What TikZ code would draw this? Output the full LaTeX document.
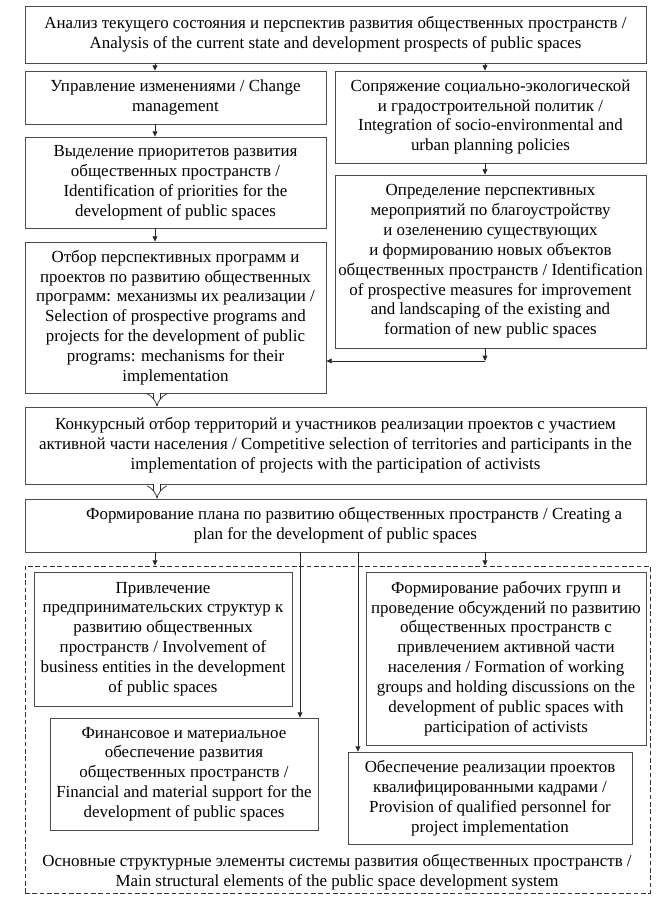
\documentclass[tikz,border=0pt]{standalone}
\usepackage{fontspec}
\setmainfont{Liberation Serif}
\usetikzlibrary{arrows.meta}
\begin{document}
\begin{tikzpicture}[x=0.75pt,y=-0.75pt,
  box/.style={draw=black!70, line width=0.6pt, rectangle, align=center, inner sep=0pt, font=\fontsize{12.7}{14.9}\selectfont},
  arr/.style={draw=black!85, line width=0.6pt, -{Triangle[length=4pt,width=3.6pt]}},
  dbl/.style={draw=black!85, line width=0.5pt, double distance=5pt, -{Implies[length=4pt,width=16pt]}}]
\useasboundingbox (0,0) rectangle (663,902);
\coordinate (cl) at (155,0);
\coordinate (cr) at (485,0);
\coordinate (cd) at (157,0);
\coordinate (cf) at (300,0);
\coordinate (co) at (358,0);
\coordinate (turn) at (485,361);
\node[box, minimum width=465.75pt, minimum height=42.75pt] (top) at (335.5,34.5) {Анализ текущего состояния и перспектив развития общественных пространств /\\ Analysis of the current state and development prospects of public spaces};
\node[box, minimum width=225.75pt, minimum height=39.75pt] (uprav) at (175.5,97.5) {Управление изменениями / Change\\ management};
\node[box, minimum width=233.25pt, minimum height=69pt] (sopr) at (490.5,117) {Сопряжение социально-экологической\\ и градостроительной политик /\\ Integration of socio-environmental and\\ urban planning policies};
\node[box, minimum width=225.75pt, minimum height=68.25pt] (vydel) at (175.5,182.5) {Выделение приоритетов развития\\ общественных пространств /\\ Identification of priorities for the\\ development of public spaces};
\node[box, minimum width=233.25pt, minimum height=129.75pt] (opred) at (490.5,261.5) {Определение перспективных\\ мероприятий по благоустройству\\ и озеленению существующих\\ и формированию новых объектов\\ общественных пространств / Identification\\ of prospective measures for improvement\\ and landscaping of the existing and\\ formation of new public spaces};
\node[box, minimum width=225.75pt, minimum height=113.25pt] (otbor) at (175.5,317.5) {Отбор перспективных программ и\\ проектов по развитию общественных\\ программ: механизмы их реализации /\\ Selection of prospective programs and\\ projects for the development of public\\ programs: mechanisms for their\\ implementation};
\node[box, minimum width=465.75pt, minimum height=57.75pt] (konkurs) at (335.5,445.5) {Конкурсный отбор территорий и участников реализации проектов с участием\\ активной части населения / Competitive selection of territories and participants in the\\ implementation of projects with the participation of activists};
\node[box, minimum width=465.75pt, minimum height=39.75pt] (plan) at (335.5,525.5) {\hspace*{2.2em}Формирование плана по развитию общественных пространств / Creating a\\ plan for the development of public spaces};
\node[draw=black!80, line width=0.6pt, dash pattern=on 3.5pt off 2pt, rectangle, minimum width=468.75pt, minimum height=245.25pt] (frame) at (337.5,729.5) {};
\node[box, minimum width=193.5pt, minimum height=100.5pt] (privl) at (163,639) {Привлечение\\ предпринимательских структур к\\ развитию общественных\\ пространств / Involvement of\\ business entities in the development\\ of public spaces};
\node[box, minimum width=210pt, minimum height=129.75pt] (formir) at (506,658.5) {Формирование рабочих групп и\\ проведение обсуждений по развитию\\ общественных пространств с\\ привлечением активной части\\ населения / Formation of working\\ groups and holding discussions on the\\ development of public spaces with\\ participation of activists};
\node[box, minimum width=201pt, minimum height=84pt] (finans) at (184,774) {Финансовое и материальное\\ обеспечение развития\\ общественных пространств /\\ Financial and material support for the\\ development of public spaces};
\node[box, minimum width=213pt, minimum height=69pt] (obesp) at (490,798) {Обеспечение реализации проектов\\ квалифицированными кадрами /\\ Provision of qualified personnel for\\ project implementation};
\node[box, draw=none] (caption) at (337,872.5) {Основные структурные элементы системы развития общественных пространств /\\ Main structural elements of the public space development system};
\draw[arr] (top.south -| cl) -- (uprav.north -| cl);
\draw[arr] (uprav.south -| cl) -- (vydel.north -| cl);
\draw[arr] (vydel.south -| cl) -- (otbor.north -| cl);
\draw[arr] (top.south -| cr) -- (sopr.north -| cr);
\draw[arr] (sopr.south -| cr) -- (opred.north -| cr);
\draw[arr] (opred.south -| cr) -- (turn);
\draw[arr] (turn) -- (turn -| otbor.east);
\draw[dbl] (otbor.south -| cd) -- (konkurs.north -| cd);
\draw[dbl] (konkurs.south -| cd) -- (plan.north -| cd);
\draw[arr] (plan.south -| cl) -- (frame.north -| cl);
\draw[arr] (plan.south -| cf) -- (finans.north -| cf);
\draw[arr] (plan.south -| co) -- (obesp.north -| co);
\draw[arr] (plan.south -| cr) -- (frame.north -| cr);
\end{tikzpicture}
\end{document}
